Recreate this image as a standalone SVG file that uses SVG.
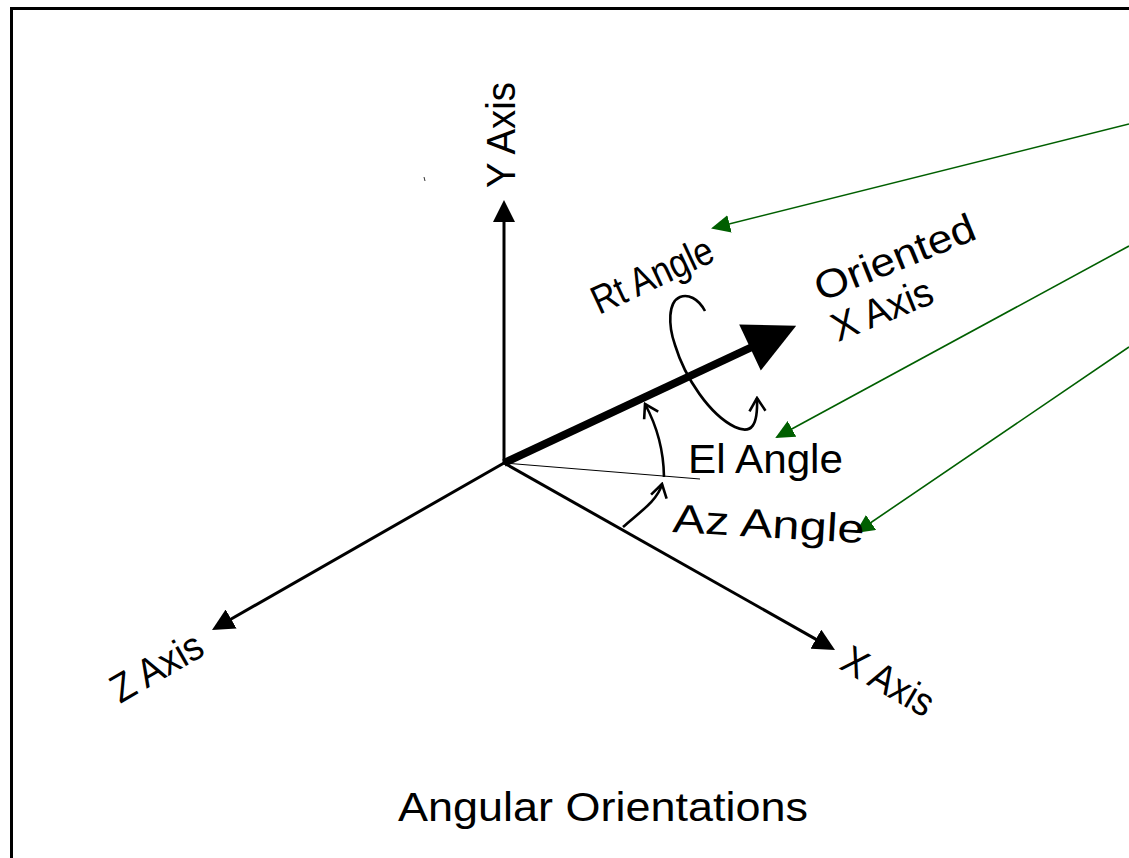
<svg xmlns="http://www.w3.org/2000/svg" width="1129" height="858" viewBox="0 0 1129 858">
<style>
text{font-family:"Liberation Sans",Arial,sans-serif;font-size:40px;fill:#000}
.ax{stroke:#000;stroke-width:3;fill:none}
.gr{stroke:#005f00;stroke-width:1.6;fill:none}
.arc{stroke:#000;stroke-width:2.6;fill:none}
</style>
<defs>
<marker id="blk" markerUnits="userSpaceOnUse" viewBox="0 0 22 22" refX="12" refY="11" markerWidth="22" markerHeight="22" orient="auto">
<path d="M0,0 L22,11 L0,22 z" fill="#000"/>
</marker>
<marker id="grn" markerUnits="userSpaceOnUse" viewBox="0 0 19 18" refX="17" refY="9" markerWidth="19" markerHeight="18" orient="auto">
<path d="M0,0 L19,9 L0,18 z" fill="#005f00"/>
</marker>
<marker id="chev" markerUnits="userSpaceOnUse" viewBox="-16 -11 18 22" refX="0" refY="0" markerWidth="18" markerHeight="22" orient="auto">
<path d="M-13,-8 L0,0 L-13,8" fill="none" stroke="#000" stroke-width="2.6"/>
</marker>
</defs>
<path d="M11.5,858 V8.5 H1129" fill="none" stroke="#000" stroke-width="3"/>
<line x1="424" y1="177" x2="425" y2="181" stroke="#333" stroke-width="1"/>
<g id="connectors">
<line class="ax" x1="504" y1="463" x2="504" y2="210" marker-end="url(#blk)"/>
<line class="ax" x1="504" y1="463" x2="220.7" y2="625" marker-end="url(#blk)"/>
<line class="ax" x1="504" y1="463" x2="826.3" y2="645.1" marker-end="url(#blk)"/>
<line x1="504" y1="463" x2="700" y2="479" stroke="#000" stroke-width="1"/>
<line x1="504" y1="463" x2="752" y2="347" stroke="#000" stroke-width="8"/>
<polygon points="796.2,325.8 739.2,324.4 760.8,370.6" fill="#000"/>
<path class="arc" d="M664,477 A158,158 0 0 0 645,404" marker-end="url(#chev)"/>
<path class="arc" d="M623,527 C640,512 658,500 662,484" marker-end="url(#chev)"/>
<path class="arc" d="M705,311 C698,298 688,294 680,297 C668,302 668,325 675,345 C685,378 710,415 735,427 C752,435 758,425 757,398" marker-end="url(#chev)"/>
<line class="gr" x1="1129" y1="124" x2="713" y2="228" marker-end="url(#grn)"/>
<line class="gr" x1="1129" y1="246" x2="777" y2="437" marker-end="url(#grn)"/>
<line class="gr" x1="1129" y1="347" x2="857" y2="532" marker-end="url(#grn)"/>
</g>
<g id="y-axis-label"><text transform="translate(515,188) rotate(-90)" textLength="106" lengthAdjust="spacingAndGlyphs">Y Axis</text></g>
<g id="z-axis-label"><text transform="translate(120,704) rotate(-30)" textLength="100" lengthAdjust="spacingAndGlyphs">Z Axis</text></g>
<g id="x-axis-label"><text transform="translate(838,668) rotate(30)" textLength="100" lengthAdjust="spacingAndGlyphs">X Axis</text></g>
<g id="oriented-label">
<text transform="translate(821,302) rotate(-22)" textLength="170" lengthAdjust="spacingAndGlyphs">Oriented</text>
<text transform="translate(838,342) rotate(-22)" textLength="106" lengthAdjust="spacingAndGlyphs">X Axis</text>
</g>
<g id="rt-angle-label"><text transform="translate(599,315) rotate(-25)" textLength="130" lengthAdjust="spacingAndGlyphs">Rt Angle</text></g>
<g id="el-angle-label"><text x="688" y="473" textLength="155" lengthAdjust="spacingAndGlyphs">El Angle</text></g>
<g id="az-angle-label"><text transform="translate(672,532) rotate(3.3)" textLength="192" lengthAdjust="spacingAndGlyphs">Az Angle</text></g>
<g id="title"><text x="398" y="821" textLength="410" lengthAdjust="spacingAndGlyphs">Angular Orientations</text></g>
</svg>
